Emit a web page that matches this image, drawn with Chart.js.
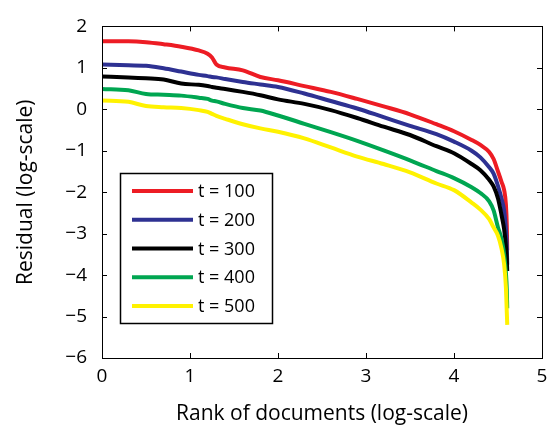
<!DOCTYPE html>
<html><head><meta charset="utf-8">
<script src="https://cdn.jsdelivr.net/npm/chart.js@4.4.0/dist/chart.umd.min.js"></script>
<style>html,body{margin:0;padding:0;background:#fff;overflow:hidden}#wrap{width:558px;height:431px;position:relative}</style>
</head><body><div id="wrap"><canvas id="c" width="558" height="431"></canvas></div>
<script>
// ---- data ----
const rankLog = [0, 0.3, 0.5, 0.7, 0.9, 1.1, 1.2, 1.25, 1.3, 1.4, 1.6, 1.8, 2.0, 2.3, 2.6, 2.9, 3.2, 3.5, 3.8, 4.0, 4.2, 4.3, 4.4, 4.45, 4.5, 4.54, 4.57, 4.59, 4.6, 4.605];
const t100 = [1.64, 1.64, 1.62, 1.57, 1.51, 1.42, 1.34, 1.25, 1.08, 1.01, 0.94, 0.78, 0.70, 0.56, 0.42, 0.25, 0.07, -0.12, -0.36, -0.53, -0.74, -0.86, -1.03, -1.20, -1.50, -1.75, -1.95, -2.3, -2.8, -3.4];
const t200 = [1.08, 1.06, 1.05, 0.99, 0.91, 0.83, 0.80, 0.78, 0.77, 0.73, 0.66, 0.60, 0.54, 0.38, 0.20, 0.02, -0.19, -0.40, -0.60, -0.78, -1.0, -1.16, -1.40, -1.55, -1.85, -2.15, -2.45, -2.9, -3.3, -3.75];
const t300 = [0.79, 0.77, 0.75, 0.72, 0.62, 0.59, 0.56, 0.54, 0.52, 0.49, 0.42, 0.34, 0.24, 0.13, -0.02, -0.21, -0.42, -0.62, -0.89, -1.06, -1.32, -1.47, -1.70, -1.86, -2.15, -2.55, -2.9, -3.3, -3.6, -3.9];
const t400 = [0.49, 0.46, 0.37, 0.35, 0.33, 0.28, 0.25, 0.21, 0.19, 0.13, 0.03, -0.03, -0.15, -0.35, -0.55, -0.76, -0.99, -1.23, -1.49, -1.66, -1.88, -2.02, -2.22, -2.44, -2.85, -3.13, -3.5, -3.95, -4.35, -4.8];
const t500 = [0.21, 0.18, 0.08, 0.05, 0.03, -0.02, -0.06, -0.11, -0.16, -0.23, -0.36, -0.46, -0.54, -0.70, -0.92, -1.14, -1.32, -1.52, -1.79, -1.95, -2.25, -2.42, -2.65, -2.85, -3.05, -3.36, -3.75, -4.3, -4.9, -5.2];
const seriesLabels = ['t = 100', 't = 200', 't = 300', 't = 400', 't = 500'];
const seriesColors = ['#ED1C24', '#2E3192', '#000000', '#00A651', '#FFF200'];
const xTickValues = [0, 1, 2, 3, 4, 5];
const xTickLabels = ['0', '1', '2', '3', '4', '5'];
const yTickValues = [-6, -5, -4, -3, -2, -1, 0, 1, 2];
const yTickLabels = ['\u22126', '\u22125', '\u22124', '\u22123', '\u22122', '\u22121', '0', '1', '2'];
const xTitle = 'Rank of documents (log-scale)';
const yTitle = 'Residual (log-scale)';

const seriesValues = [t100, t200, t300, t400, t500];
const datasets = seriesValues.map((vals, i) => ({
  label: seriesLabels[i],
  data: rankLog.map((x, j) => ({x: x, y: vals[j]})),
  borderColor: seriesColors[i],
  backgroundColor: seriesColors[i],
  order: seriesValues.length - i,
  fill: false
}));

Chart.defaults.font.family = "'Open Sans', 'Noto Sans', sans-serif";
Chart.defaults.color = '#000';

const boxPlugin = {
  id: 'boxPlugin',
  afterDatasetsDraw(chart) {
    const ctx = chart.ctx;
    const {left, right, top, bottom} = chart.chartArea;
    const xs = chart.scales.x, ys = chart.scales.y;
    ctx.save();
    ctx.strokeStyle = '#000';
    ctx.lineWidth = 1;
    ctx.strokeRect(Math.round(left) + 0.5, Math.round(top) + 0.5, Math.round(right - left), Math.round(bottom - top));
    ctx.beginPath();
    xTickValues.forEach(v => {
      const p = Math.round(xs.getPixelForValue(v)) + 0.5;
      ctx.moveTo(p, bottom); ctx.lineTo(p, bottom - 5);
      ctx.moveTo(p, top); ctx.lineTo(p, top + 5);
    });
    yTickValues.forEach(v => {
      const p = Math.round(ys.getPixelForValue(v)) + 0.5;
      ctx.moveTo(left, p); ctx.lineTo(left + 5, p);
      ctx.moveTo(right, p); ctx.lineTo(right - 5, p);
    });
    ctx.stroke();
    // legend box
    const bx = 120, by = 173, bw = 152, bh = 150;
    ctx.fillStyle = '#fff';
    ctx.fillRect(bx, by, bw, bh);
    ctx.lineWidth = 1.5;
    ctx.strokeRect(bx + 0.5, by + 0.5, bw, bh);
    ctx.font = "18px 'Open Sans', 'Noto Sans', sans-serif";
    ctx.textBaseline = 'middle';
    ctx.textAlign = 'left';
    chart.data.datasets.forEach((ds, i) => {
      const y = 191 + i * 28.75;
      ctx.strokeStyle = ds.borderColor;
      ctx.lineWidth = 4;
      ctx.beginPath();
      ctx.moveTo(132, y); ctx.lineTo(193, y);
      ctx.stroke();
      ctx.fillStyle = '#000';
      ctx.fillText(ds.label, 198, y + 1);
    });
    ctx.restore();
  }
};

new Chart(document.getElementById('c').getContext('2d'), {
  type: 'line',
  data: {datasets},
  options: {
    responsive: false,
    animation: false,
    devicePixelRatio: 1,
    layout: {padding: {top: 13, right: 16, left: 0, bottom: 0}},
    plugins: {legend: {display: false}, tooltip: {enabled: false}},
    elements: {
      point: {radius: 0},
      line: {borderWidth: 4, cubicInterpolationMode: 'monotone', borderCapStyle: 'butt'}
    },
    scales: {
      x: {
        type: 'linear', min: 0, max: 5,
        afterBuildTicks: s => { s.ticks = xTickValues.map(v => ({value: v})); },
        afterFit: s => { s.height = 73; },
        ticks: {
          padding: 7, maxRotation: 0, autoSkip: false,
          font: {size: 19},
          callback: v => xTickLabels[xTickValues.indexOf(v)]
        },
        grid: {display: false, drawTicks: false},
        border: {display: false},
        title: {display: true, text: xTitle, font: {size: 21}, padding: {top: 0, bottom: 4}}
      },
      y: {
        type: 'linear', min: -6, max: 2,
        afterBuildTicks: s => { s.ticks = yTickValues.map(v => ({value: v})); },
        afterFit: s => { s.width = 102; },
        ticks: {
          padding: 15, autoSkip: false,
          font: {size: 19},
          callback: v => yTickLabels[yTickValues.indexOf(v)]
        },
        grid: {display: false, drawTicks: false},
        border: {display: false},
        title: {display: true, text: yTitle, font: {size: 21}, padding: {top: 13, bottom: 0}}
      }
    }
  },
  plugins: [boxPlugin]
});
</script>
</body></html>
